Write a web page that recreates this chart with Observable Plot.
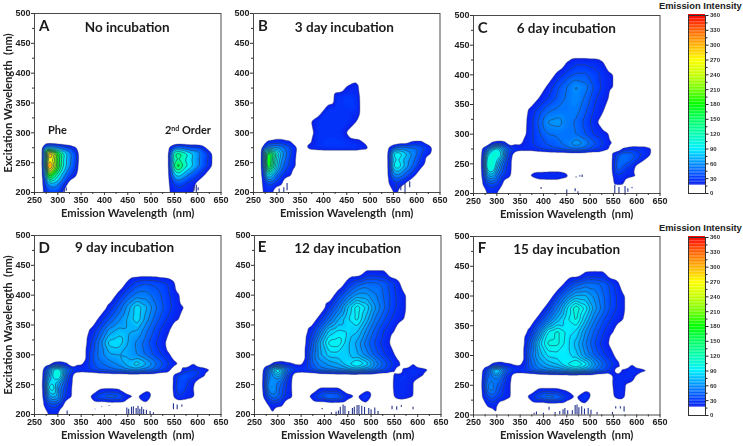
<!DOCTYPE html>
<html><head><meta charset="utf-8">
<script src="https://cdn.jsdelivr.net/npm/d3@7"></script>
<script src="https://cdn.jsdelivr.net/npm/@observablehq/plot@0.6"></script>
<style>
html,body{margin:0;padding:0;background:#fff}
#chart{position:relative;width:743px;height:446px;overflow:hidden}
#chart svg{position:absolute;overflow:visible;filter:blur(0.35px)}
.ct{position:absolute;font:bold 9.4px/11px "Liberation Sans",Arial,sans-serif;color:#222;white-space:nowrap}
</style></head><body><div id="chart"></div>
<script>
const O=[0,0,0,0,0,0,0,0,0];
const emission=[270,280,290,300,310,320,330,340,350,370,390,410,430,450,470,490,510,530,540,550,560,570,590,610,630];
const excitation=[440,420,400,380,360,340,320,300,285,275,265,255,245,230,215,200];
const intensityTicks=[0,30,60,90,120,150,180,210,240,270,300,330,360];
const wavelengthTicksX=[250,300,350,400,450,500,550,600,650];
const wavelengthTicksY=[200,250,300,350,400,450,500];

const fieldA=[[],[],[],[],[],[],[],[],[],
[22,60,60,50,40,32,24,19,0,...O,20,40,48,42,34,28,0],
[24,345,270,185,125,78,52,32,0,...O,22,135,145,125,80,48,19],
[24,275,250,175,115,72,52,32,0,...O,22,120,130,110,75,44,19],
[24,370,275,185,115,72,48,27,0,...O,22,150,175,125,80,44,19],
[24,215,160,115,72,45,30,18,0,...O,22,80,95,72,42,24,0],
[22,65,75,60,36,18,0,0,0,...O,20,32,38,32,22,0,0],
[20,32,32,30,18,0,0,0,0,...O,18,22,22,20,18,0,0]];

const fieldB=[[],[],[],
[...O,0,0,0,0,16,23],
[...O,0,0,0,27,31,28],
[...O,0,0,27,29,29,29],
[...O,14,28,28,28,28,19],
[...O,8,28,28,28,16],
[0,18,20,24,24,20,18,0,0,14,28,30,30,28,24,14,0,0,0,0,0,0,17,18,0],
[18,50,65,65,58,45,35,25,0,24,28,30,30,30,30,24,0,0,18,35,50,55,50,40,24],
[25,185,160,110,72,50,35,20,0,...O,20,95,105,90,62,35,18],
[25,195,150,95,62,45,30,18,0,...O,20,82,92,78,55,30,0],
[25,195,145,90,56,40,30,18,0,...O,20,95,105,84,50,22,0],
[22,100,80,50,35,25,20,0,0,...O,20,58,64,52,30,0,0],
[20,36,36,25,20,0,0,0,0,...O,18,25,28,22,0,0,0],
[18,22,20,0,0,0,0,0,0,...O,0,18,18,0,0,0,0]];

const fieldC=[[],
[...O,0,0,0,0,18,28,28,26,18],
[...O,0,0,0,24,35,42,42,35,26,22,18,0],
[...O,0,0,22,38,50,62,55,38,26,22,18,0],
[...O,0,18,30,42,52,60,48,32,22,18,0],
[...O,20,35,48,52,52,55,42,28,18,0],
[...O,24,42,62,65,55,48,36,24,0],
[...O,26,38,50,52,50,50,40,28,22,18,0],
[0,0,18,22,22,18,0,14,14,26,36,42,46,55,68,58,42,28,22,18,0],
[20,45,80,100,78,50,35,28,24,24,30,36,40,45,50,45,35,24,18,0,0,20,30,28,20],
[22,90,110,115,90,45,25,0,0,...O,0,22,40,50,45,30,18],
[24,105,115,90,62,35,20,0,0,...O,0,24,45,50,40,22,0],
[24,110,115,75,50,30,20,0,0,...O,0,24,50,40,25,0,0],
[22,70,75,52,35,25,18,0,0,18,28,30,30,22,0,0,0,0,0,20,28,25,20,18,0],
[18,32,36,30,22,0,0,0,0,...O,0,18,18,18,0,0,0],
[0,20,22,18,0]];

const fieldD=[[],
[...O,0,0,0,0,22,35,40,38,32,28,20,0],
[...O,0,0,0,24,42,55,55,45,36,30,25,20,0],
[...O,0,0,22,42,65,88,72,52,38,32,27,22,18,0],
[...O,0,22,40,58,72,88,65,45,32,27,22,18,0],
[...O,20,40,65,75,72,70,52,36,22,18,0],
[...O,28,55,85,88,70,58,44,30,20,0],
[...O,34,55,68,70,68,60,48,36,26,20,0],
[0,0,18,22,22,18,0,14,14,34,48,55,62,75,88,72,52,36,30,24,18,0,18,0],
[20,55,90,110,80,50,38,30,28,32,42,46,52,60,65,55,45,32,22,0,0,25,32,28,18],
[22,65,95,115,80,40,22,0,0,...O,0,24,36,42,36,22,0],
[24,80,90,80,55,30,20,0,0,...O,0,24,36,38,22,0,0],
[24,95,100,62,45,28,18,0,0,0,12,14,12,0,0,8,0,0,0,26,40,35,18,0,0],
[22,65,75,68,40,25,18,0,0,18,40,48,45,22,16,32,0,0,0,22,30,26,20,0,0],
[18,30,35,30,20,0,0,0,0,0,0,0,0,0,0,10],
[0,18,20,18,0]];

const fieldE=[
[...O,0,0,0,0,0,0,18,18,18,0],
[...O,0,0,0,0,26,40,48,48,42,36,30,22,0],
[...O,0,0,0,32,50,65,65,55,44,38,32,26,22,0],
[...O,0,0,28,50,78,100,85,62,46,38,32,27,22,0],
[...O,0,26,48,70,85,98,75,52,38,32,27,22,18,0],
[...O,24,50,80,88,85,80,60,42,28,24,18,0],
[...O,34,70,98,100,80,68,50,36,24,18,0],
[...O,42,68,82,82,80,72,58,42,30,24,20,0],
[0,0,18,22,24,20,18,14,14,40,58,65,70,85,98,85,60,42,34,28,22,0,18,0],
[20,48,80,105,78,50,38,32,30,36,50,55,60,65,72,62,50,38,30,20,0,22,28,24,18],
[22,52,62,76,60,35,20,0,0,...O,0,22,26,28,26,18,0],
[24,58,62,55,45,28,18,0,0,...O,0,24,26,26,18,0,0],
[24,62,64,50,40,26,18,0,0,0,16,16,16,0,0,8,0,0,0,24,26,26,18,0,0],
[20,42,52,48,36,25,20,0,0,20,40,52,48,24,16,34,0,0,0,20,24,24,18,0,0],
[0,18,24,20,18,0,0,0,0,0,0,0,0,0,0,10],
[0,0,18,0]];

const fieldF=[
[...O,0,0,0,0,0,0,17,18,18,0],
[...O,0,0,0,0,26,42,50,50,44,38,30,24,0],
[...O,0,0,0,34,55,72,72,60,46,40,34,28,22,0],
[...O,0,0,30,55,85,110,92,66,48,40,34,28,22,0],
[...O,0,28,52,75,92,105,78,54,38,32,27,22,18,0],
[...O,22,55,95,105,92,85,62,44,30,24,18,0],
[...O,38,80,105,105,90,75,55,38,24,18,0],
[...O,46,72,88,90,90,82,62,45,32,26,22,0],
[0,0,18,22,24,20,18,14,14,42,62,72,78,95,108,92,65,44,36,30,24,0,18,0],
[18,40,68,88,72,45,36,32,30,38,52,58,62,68,78,68,52,40,32,20,0,20,28,24,17],
[20,46,52,62,50,30,20,0,0,...O,0,20,24,26,24,0,0],
[22,52,56,50,40,25,18,0,0,...O,0,22,24,24,17,0,0],
[22,56,60,45,35,22,18,0,0,0,16,16,16,12,0,8,0,0,0,20,24,24,0,0,0],
[20,36,42,35,30,22,18,0,0,22,42,55,50,30,16,36,0,0,0,17,22,22,0,0,0],
[0,20,22,18,0,0,0,0,0,0,0,0,0,0,0,10],
[0,0,0,18,0]];

const linesA=[30,55,80,105,130,155,180,205,230,255,280];
const linesB=[34,48,62,76,90,104,118,132,146,160];
const linesC=[30,40,50,60,70,80,90];
const linesD=[30,40,50,60,70,80,90];
const linesE=[30,38,46,54,62,70,78,86,94];
const linesF=[30,38,46,54,62,70,78,86,94,102];

const specksA=[[314,200,206],[318,202,208],[592,202,210],[597,200,212],[601,203,208]];
const specksB=[[305,200,206],[315,200,208],[322,203,215],[556,205,216],[566,203,212],[575,200,215],[585,208,218]];
const specksC=[[395,207,210],[450,200,206],[468,203,208],[474,200,203],[553,200,214],[562,200,210],[575,200,212],[581,202,208],[590,208,210],[470,226,228],[478,228,230],[483,227,231]];
const specksD=[[448,200,211],[452,200,209],[458,200,212],[462,200,213],[468,200,210],[472,200,214],[476,200,209],[480,200,212],[484,200,208],[490,200,207],[498,200,205],[505,200,203],[380,208,209],[394,212,213],[410,214,215],[548,208,218],[556,208,216],[566,212,216],[320,200,206]];
const specksE=[[430,200,206],[434,200,212],[440,200,216],[444,200,214],[452,200,205],[460,200,210],[464,200,212],[470,200,215],[474,200,215],[480,200,214],[486,200,212],[495,200,210],[500,200,208],[508,200,211],[515,200,205],[395,208,210],[415,200,203],[425,200,204],[545,208,214],[555,207,213],[565,212,215],[590,208,212]];
const specksF=[[380,200,203],[385,200,205],[400,200,203],[412,208,213],[425,200,204],[435,200,206],[442,200,209],[446,200,211],[452,200,207],[462,200,207],[468,200,216],[472,200,217],[476,200,212],[482,200,214],[488,200,210],[496,200,211],[502,200,208],[515,200,204],[548,200,204],[555,210,214],[565,210,214],[573,205,214]];

const colorDomain=[17,30,60,90,120,150,180,210,240,270,300,330,360];
const colorRange=["#0a20e8","#0038ff","#0090ff","#00f0ff","#00ffb0","#00ff60","#00ff00","#70ff00","#c8ff00","#ffff00","#ffb000","#ff6000","#ff0000"];
const colorOpt={type:"linear",domain:colorDomain,range:colorRange,interpolate:"rgb",clamp:true};
const fillLevels=d3.range(17,362,3);

const sans='"Liberation Sans",Arial,sans-serif', cal='Lato,"Open Sans",sans-serif';

function samples(field){
  const pts=[];
  excitation.forEach((y,r)=>emission.forEach((x,c)=>pts.push({x,y,v:(field[r]&&field[r][c])||0})));
  for(const y of [...excitation,460,500,200]) for(const x of [250,260,640,650]) pts.push({x,y,v:0});
  for(const x of [250,...emission,650]) for(const y of [460,500]) pts.push({x,y,v:0});
  return pts;
}

const panels=[
 {l:"A",t:"No incubation",f:fieldA,lines:linesA,s:specksA,box:[33.5,13,220,192],lx:271,ly:479,tx:449,ty:477,yl:true},
 {l:"B",t:"3 day incubation",f:fieldB,lines:linesB,s:specksB,box:[252.5,13,439,192],lx:270,ly:479,tx:445,ty:477},
 {l:"C",t:"6 day incubation",f:fieldC,lines:linesC,s:specksC,box:[472.5,14.5,659,192.5],lx:270,ly:479,tx:449,ty:477},
 {l:"D",t:"9 day incubation",f:fieldD,lines:linesD,s:specksD,box:[33.5,235,220,414],lx:271,ly:479,tx:443,ty:479,yl:true},
 {l:"E",t:"12 day incubation",f:fieldE,lines:linesE,s:specksE,box:[253.5,235,440,414],lx:266,ly:480,tx:450,ty:478},
 {l:"F",t:"15 day incubation",f:fieldF,lines:linesF,s:specksF,box:[472.5,236,659,414.5],lx:268,ly:480,tx:450,ty:478}
];

const chart=document.getElementById("chart");
const M={l:32,r:14,t:10,b:32};
for(const p of panels){
  const [x0,y0,x1,y1]=p.box, pts=samples(p.f);
  const marks=[
    Plot.contour(pts,{x:"x",y:"y",fill:"v",interpolate:"barycentric",pixelSize:1,blur:1,thresholds:fillLevels,stroke:"none"}),
    Plot.contour(pts,{x:"x",y:"y",value:"v",interpolate:"barycentric",pixelSize:1,blur:1,thresholds:[17],fill:"none",stroke:"#555",strokeWidth:0.7,strokeOpacity:0.55}),
    Plot.contour(pts,{x:"x",y:"y",value:"v",interpolate:"barycentric",pixelSize:1,blur:1,thresholds:p.lines,fill:"none",stroke:"#2b3f5c",strokeWidth:0.75,strokeOpacity:0.85}),
    Plot.ruleX(p.s,{x:d=>d[0],y1:d=>d[1],y2:d=>d[2],stroke:"#24348c",strokeWidth:1.1}),
    Plot.frame({stroke:"#4a4a4a",strokeWidth:1}),
    Plot.axisX({ticks:wavelengthTicksX,tickSize:3,tickPadding:1,label:null,fontSize:9,fontWeight:"bold",fontFamily:sans,stroke:"#333",fill:"#222"}),
    Plot.axisY({ticks:wavelengthTicksY,tickSize:3,tickPadding:1,label:null,fontSize:9,fontWeight:"bold",fontFamily:sans,stroke:"#333",fill:"#222"}),
    Plot.axisY({ticks:d3.range(225,500,50),tickSize:2,tickFormat:()=>"",label:null,stroke:"#333"}),
    Plot.axisX({ticks:d3.range(275,650,50),tickSize:2,tickFormat:()=>"",label:null,stroke:"#333"}),
    Plot.text([p.l],{x:p.lx,y:p.ly,text:d=>d,fontSize:15,fontWeight:"bold",fontFamily:cal,fill:"#1c1c1c"}),
    Plot.text([p.t],{x:p.tx,y:p.ty,text:d=>d,fontSize:13.5,fontWeight:"bold",fontFamily:cal,fill:"#1c1c1c"}),
    Plot.text(["Emission Wavelength  (nm)"],{frameAnchor:"bottom",dy:24,text:d=>d,fontSize:11.2,fontWeight:"bold",fontFamily:cal,fill:"#222"})
  ];
  if(p.yl) marks.push(Plot.text(["Excitation Wavelength  (nm)"],{frameAnchor:"left",textAnchor:"middle",dx:-26,rotate:-90,text:d=>d,fontSize:11.2,fontWeight:"bold",fontFamily:cal,fill:"#222"}));
  if(p.l==="A"){
    marks.push(Plot.text(["Phe"],{x:299,y:304,text:d=>d,fontSize:11,fontWeight:"bold",fontFamily:cal,fill:"#1c1c1c"}));
    marks.push(Plot.text(["2nd Order"],{x:579,y:304,text:d=>d,fontSize:11,fontWeight:"bold",fontFamily:cal,fill:"#1c1c1c"}));
  }
  const svg=Plot.plot({width:x1-x0+M.l+M.r,height:y1-y0+M.t+M.b,marginLeft:M.l,marginRight:M.r,marginTop:M.t,marginBottom:M.b,
    x:{domain:[250,650],axis:null},y:{domain:[200,500],axis:null},color:colorOpt,marks,style:{background:"transparent"}});
  svg.style.left=(x0-M.l)+"px"; svg.style.top=(y0-M.t)+"px";
  d3.select(svg).selectAll("text").each(function(){
    const leaf=this.querySelector("tspan")||this;
    if(leaf.textContent==="2nd Order"){
      d3.select(leaf).text("2").append("tspan").attr("dy",-3).attr("font-size",7).text("nd");
      d3.select(leaf).append("tspan").attr("dy",3).text(" Order");
    }
  });
  chart.append(svg);
}

const bars=[[14.5,192.5,0],[236.5,414.5,221.5]];
for(const [y0,y1,tt] of bars){
  const svg=Plot.plot({width:60,height:y1-y0+16,marginLeft:4,marginRight:39,marginTop:8,marginBottom:8,
    x:{domain:[0,1],axis:null},y:{domain:[0,360],axis:null},color:colorOpt,
    marks:[
      Plot.rect(d3.range(17,360,3),{x1:0,x2:1,y1:d=>d,y2:d=>d+3,fill:d=>d+1.5}),
      Plot.frame({stroke:"#333",strokeWidth:1}),
      Plot.axisY({anchor:"right",ticks:intensityTicks,tickSize:2.5,tickPadding:2,label:null,fontSize:6,fontWeight:"bold",fontFamily:sans,fill:"#333",stroke:"#222"}),
      Plot.axisY({anchor:"right",ticks:d3.range(15,360,30),tickSize:1.5,tickFormat:()=>"",label:null,stroke:"#222"})
    ],style:{background:"transparent"}});
  svg.style.left="684px"; svg.style.top=(y0-8)+"px";
  chart.append(svg);
  const d=document.createElement("div"); d.className="ct"; d.textContent="Emission Intensity";
  d.style.left="659px"; d.style.top=tt+"px"; chart.append(d);
}
</script></body></html>
